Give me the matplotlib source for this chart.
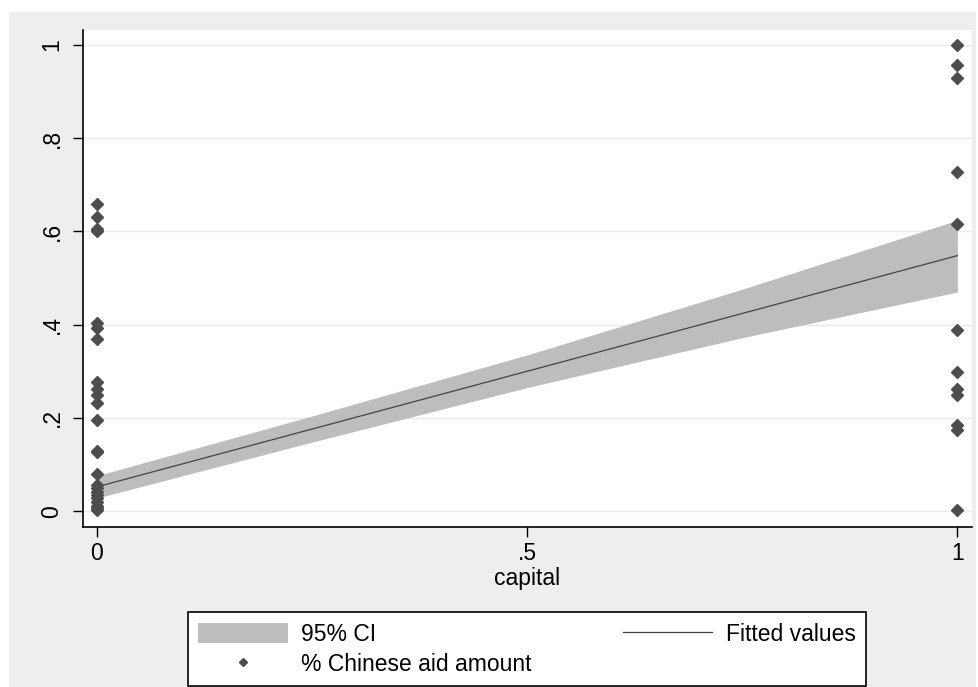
#! /usr/bin/python

"""
Scatter of Chinese aid share against capital dummy, with linear fit and 95% CI.
"""

from matplotlib import pyplot as plt
from matplotlib.patches import Rectangle
from matplotlib.lines import Line2D

plt.rcParams["font.family"] = ["Liberation Sans", "DejaVu Sans"]

# observations at capital = 0
aid_capital0 = [0.658, 0.630, 0.605, 0.600, 0.403, 0.392, 0.369, 0.277, 0.262,
                0.250, 0.232, 0.195, 0.130, 0.127, 0.079, 0.057, 0.050, 0.042,
                0.035, 0.028, 0.020, 0.012, 0.006, 0.002]
# observations at capital = 1
aid_capital1 = [1.000, 0.957, 0.928, 0.727, 0.615, 0.388, 0.299, 0.262, 0.250,
                0.185, 0.175, 0.002]

# fitted line and CI, read at a few capital values
fit_x = [0.0, 0.25, 0.5, 0.75, 1.0]
fit_y = [0.052, 0.176, 0.300, 0.424, 0.548]
ci_lo = [0.028, 0.148, 0.265, 0.372, 0.470]
ci_hi = [0.076, 0.204, 0.335, 0.476, 0.624]

yticks = [0, 0.2, 0.4, 0.6, 0.8, 1.0]
ytick_labels = ["0", ".2", ".4", ".6", ".8", "1"]
xticks = [0, 0.5, 1]
xtick_labels = ["0", ".5", "1"]

W, H = 979, 687
BG = "#eeeeee"
MARK = "#4d4d4d"
FS = 16.5


def main():
    fig = plt.figure(figsize=(W / 100, H / 100), dpi=100, facecolor="white")
    # Stata-style graph region
    fig.patches.append(Rectangle((9 / W, 0), (976 - 9) / W, (H - 12) / H,
                                 transform=fig.transFigure, facecolor=BG,
                                 edgecolor="none", zorder=-10))

    ax = fig.add_axes([83 / W, 1 - 527 / H, (972 - 83) / W, (527 - 30) / H])
    ax.set_facecolor("white")

    ci = ax.fill_between(fit_x, ci_lo, ci_hi, color="#bdbdbd", linewidth=0,
                         zorder=1)
    (fit,) = ax.plot(fit_x, fit_y, color="#444444", linewidth=0.9, zorder=2)
    xs = [0] * len(aid_capital0) + [1] * len(aid_capital1)
    ys = aid_capital0 + aid_capital1
    (pts,) = ax.plot(xs, ys, "D", color=MARK, markersize=6.3, linestyle="none",
                     zorder=3)

    ax.set_xlim(-0.016, 1.017)
    ax.set_ylim(-0.034, 1.032)
    ax.set_yticks(yticks)
    ax.set_yticklabels(ytick_labels, rotation=90, va="center")
    ax.set_xticks(xticks)
    ax.set_xticklabels(xtick_labels)
    ax.tick_params(axis="both", length=7, width=1, labelsize=FS, color="black")
    ax.tick_params(axis="y", pad=7)
    ax.tick_params(axis="x", pad=4)
    ax.grid(axis="y", color="#eaeaea", linewidth=1)
    ax.set_axisbelow(True)
    for side in ("top", "right"):
        ax.spines[side].set_visible(False)
    for side in ("left", "bottom"):
        ax.spines[side].set_linewidth(1.2)
    ax.set_xlabel("capital", fontsize=FS, labelpad=1)

    legend_pts = Line2D([], [], marker="D", color=MARK, markersize=4.5,
                        linestyle="none")
    leg = fig.legend([ci, legend_pts, fit],
                     ["95% CI", "% Chinese aid amount", "Fitted values"],
                     ncol=2, loc="lower left", mode="expand",
                     bbox_to_anchor=(188 / W, 1 / H, (866 - 188) / W, 78 / H),
                     fontsize=FS, frameon=True, fancybox=False,
                     edgecolor="black", framealpha=1, handlelength=3.9,
                     handleheight=1.0, handletextpad=0.6, borderpad=0.45,
                     labelspacing=0.3, borderaxespad=0)
    leg.get_frame().set_linewidth(1.2)

    fig.savefig("out.png", dpi=100, facecolor="white")


if __name__ == "__main__":
    main()
